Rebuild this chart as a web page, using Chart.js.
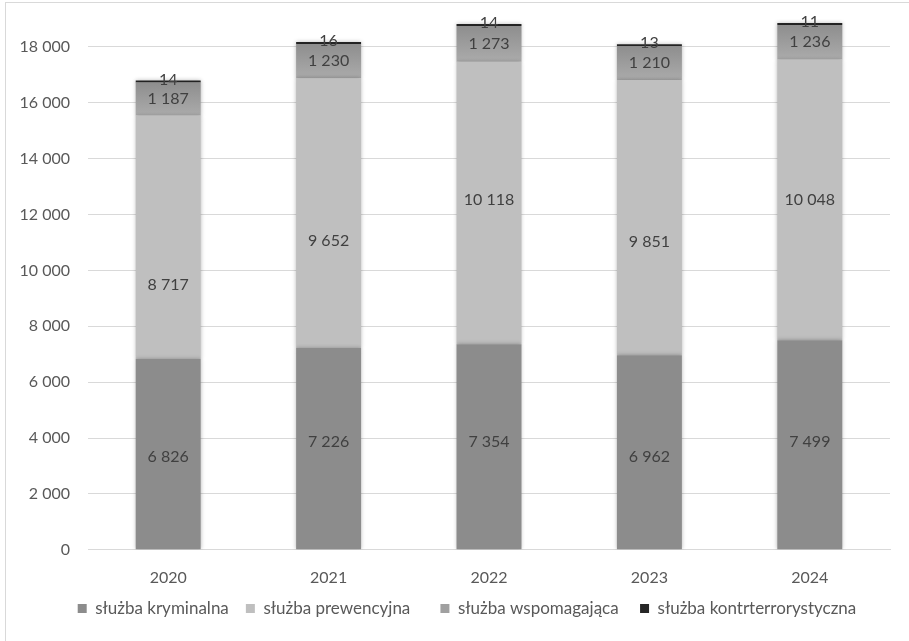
<!DOCTYPE html>
<html>
<head>
<meta charset="utf-8">
<script src="https://cdn.jsdelivr.net/npm/chart.js@4.4.1/dist/chart.umd.min.js"></script>
<style>
    html, body { margin: 0; padding: 0; background: #fff; overflow: hidden; }
    #frame {
        position: absolute; left: 5px; top: 2px;
        width: 940px; height: 680px;
        border: 1px solid #d9d9d9;
    }
    #chart { display: block; }
</style>
</head>
<body>
<div id="frame"><canvas id="chart" width="903" height="638"></canvas></div>
<script>
'use strict';

var years = ['2020', '2021', '2022', '2023', '2024'];
var kryminalna = [6826, 7226, 7354, 6962, 7499];
var prewencyjna = [8717, 9652, 10118, 9851, 10048];
var wspomagajaca = [1187, 1230, 1273, 1210, 1236];
var kontrterrorystyczna = [14, 16, 14, 13, 11];
var yTicks = [0, 2000, 4000, 6000, 8000, 10000, 12000, 14000, 16000, 18000];

var FONT = 'Lato, "Open Sans", sans-serif';

// in the original some labels sit a bit off the segment centre (px, down)
var labelNudge = [
    [3, -7, -5, 5, -3],
    [48, 28, -3, 24, 0],
    [0, 0, 0, 0, 0],
    [0, 0, 0, 0, 0]
];

function fmt(v) {
    return String(v).replace(/\B(?=(\d{3})+(?!\d))/g, ' ');
}

// gradient for the "wspomagająca" segment, darker at the top
function supportFill(ctx) {
    var chart = ctx.chart;
    if (!chart.chartArea || ctx.dataIndex === undefined) {
        return '#9c9c9c';
    }
    var i = ctx.dataIndex;
    var y = chart.scales.y;
    var base = kryminalna[i] + prewencyjna[i];
    var top = y.getPixelForValue(base + wspomagajaca[i]);
    var bottom = y.getPixelForValue(base);
    var g = chart.ctx.createLinearGradient(0, top, 0, bottom);
    g.addColorStop(0, '#8e8e8e');
    g.addColorStop(1, '#ababab');
    return g;
}

var barShadow = {
    id: 'barShadow',
    beforeDatasetsDraw: function (chart) {
        var c = chart.ctx;
        c.save();
        c.shadowColor = 'rgba(0,0,0,0.28)';
        c.shadowBlur = 4;
    },
    afterDatasetsDraw: function (chart) {
        chart.ctx.restore();
    }
};

// move the legend a little (right and up), like the original
var legendShift = {
    id: 'legendShift',
    afterLayout: function (chart) {
        var lg = chart.legend;
        lg.left += 19;
        lg.right += 19;
        lg.top -= 9;
        lg.bottom -= 9;
    }
};

var valueLabels = {
    id: 'valueLabels',
    afterDatasetsDraw: function (chart) {
        var c = chart.ctx;
        c.save();
        c.font = '16px ' + FONT;
        c.fillStyle = '#404040';
        c.textAlign = 'center';
        c.textBaseline = 'middle';
        chart.data.datasets.forEach(function (ds, di) {
            var meta = chart.getDatasetMeta(di);
            meta.data.forEach(function (bar, i) {
                var p = bar.getProps(['x', 'y', 'base'], true);
                var yc = (p.y + p.base) / 2;
                if (di === 3) {
                    yc = p.y - 1;
                }
                c.fillText(fmt(ds.data[i]), p.x, yc + labelNudge[di][i]);
            });
        });
        c.restore();
    }
};

var legendFills = ['#8c8c8c', '#bfbfbf', '#a0a0a0', '#262626'];
var legendGaps = ['   ', '      ', '    ', ''];

new Chart(document.getElementById('chart').getContext('2d'), {
    type: 'bar',
    data: {
        labels: years,
        datasets: [
            { label: 'służba kryminalna', data: kryminalna, backgroundColor: '#8c8c8c' },
            { label: 'służba prewencyjna', data: prewencyjna, backgroundColor: '#bfbfbf' },
            { label: 'służba wspomagająca', data: wspomagajaca, backgroundColor: supportFill },
            { label: 'służba kontrterrorystyczna', data: kontrterrorystyczna, backgroundColor: '#262626', minBarLength: 2 }
        ]
    },
    options: {
        responsive: false,
        devicePixelRatio: 1,
        animation: false,
        layout: {
            padding: { top: 16, right: 19, left: 0, bottom: 5 }
        },
        datasets: {
            bar: {
                categoryPercentage: 1,
                barPercentage: 0.405,
                borderWidth: 0
            }
        },
        plugins: {
            legend: {
                position: 'bottom',
                labels: {
                    boxWidth: 9,
                    boxHeight: 9,
                    padding: 4,
                    color: '#595959',
                    font: { family: FONT, size: 17 },
                    generateLabels: function (chart) {
                        return chart.data.datasets.map(function (ds, i) {
                            return {
                                text: ds.label + legendGaps[i],
                                fillStyle: legendFills[i],
                                strokeStyle: legendFills[i],
                                lineWidth: 0,
                                datasetIndex: i,
                                fontColor: '#595959'
                            };
                        });
                    }
                }
            },
            tooltip: { enabled: false }
        },
        scales: {
            x: {
                stacked: true,
                grid: { display: false, drawTicks: false },
                border: { color: '#d9d9d9', width: 1 },
                ticks: {
                    color: '#595959',
                    padding: 18,
                    font: { family: FONT, size: 16 }
                }
            },
            y: {
                stacked: true,
                min: 0,
                max: 19000,
                afterFit: function (scale) {
                    scale.width = 82;
                    // tick padding should not push the plot down
                    scale.paddingTop = 0;
                    scale.paddingBottom = 0;
                },
                afterBuildTicks: function (scale) {
                    scale.ticks = yTicks.map(function (v) { return { value: v }; });
                },
                grid: { color: '#d9d9d9', drawTicks: false },
                border: { display: false },
                ticks: {
                    color: '#595959',
                    padding: 18,
                    font: { family: FONT, size: 16 },
                    callback: function (v) { return fmt(v); }
                }
            }
        }
    },
    plugins: [barShadow, legendShift, valueLabels]
});
</script>
</body>
</html>
